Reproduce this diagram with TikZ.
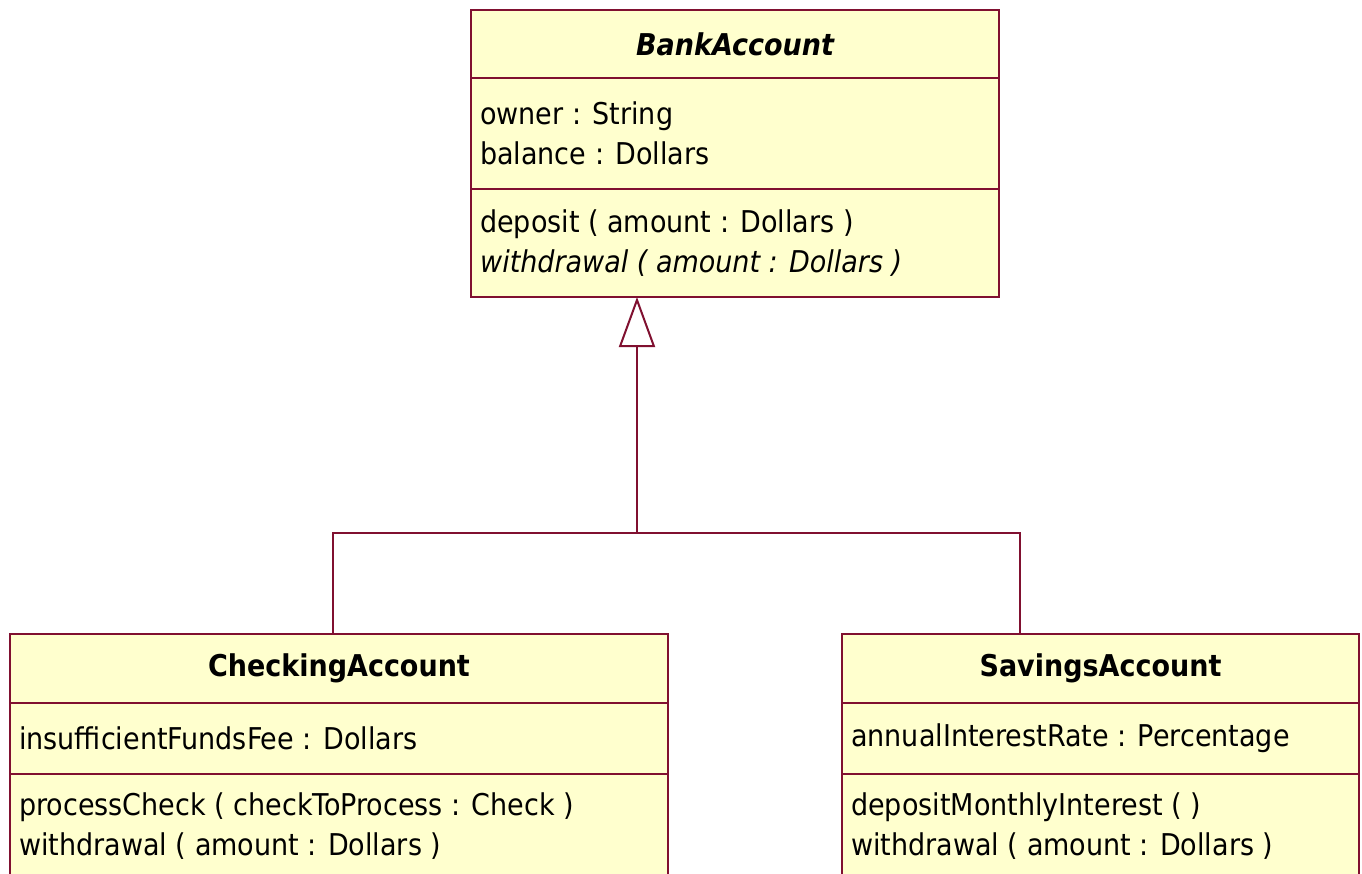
\documentclass[tikz,border=0pt]{standalone}
\usepackage{fontspec}
\setmainfont{DejaVu Sans Condensed}
\usetikzlibrary{arrows.meta}
\definecolor{umlline}{RGB}{128,16,48}
\definecolor{umlfill}{RGB}{255,255,206}
\begin{document}
\begin{tikzpicture}[x=1pt,y=-1pt,
  font=\fontsize{30}{40}\selectfont,
  box/.style={draw=umlline, fill=umlfill, line width=2pt, inner sep=0pt, outer sep=0pt},
  member/.style={align=left, anchor=west, inner xsep=9pt, inner ysep=0pt},
  link/.style={draw=umlline, line width=2pt}]

\useasboundingbox (0,0) rectangle (1362,873);
\clip (0,0) rectangle (1362,873);
\fill[white] (0,0) rectangle (1362,873);

% abstract base class
\node[box, anchor=north west, minimum width=528pt, minimum height=68pt] (bank) at (471,10)
  {\bfseries\itshape BankAccount};
\node[box, anchor=north, minimum width=528pt, minimum height=111pt] (bankattr) at (bank.south) {};
\node[box, anchor=north, minimum width=528pt, minimum height=108pt] (bankops) at (bankattr.south) {};
\node[member] (bankattrtext) at (bankattr.west) {owner : String\\balance : Dollars};
\node[member] (bankopstext) at (bankops.west)
  {deposit ( amount : Dollars )\\\itshape withdrawal ( amount : Dollars )};

% subclasses
\node[box, anchor=north west, minimum width=658pt, minimum height=69pt] (check) at (10,634)
  {\bfseries CheckingAccount};
\node[box, anchor=north, minimum width=658pt, minimum height=71pt] (checkattr) at (check.south) {};
\node[box, anchor=north, minimum width=658pt, minimum height=104pt] (checkops) at (checkattr.south) {};
\node[member] (checkattrtext) at (checkattr.west) {insufficientFundsFee : Dollars};
\node[member] (checkopstext) at (checkops.west)
  {processCheck ( checkToProcess : Check )\\withdrawal ( amount : Dollars )};

\node[box, anchor=north west, minimum width=517pt, minimum height=69pt] (save) at (842,634)
  {\bfseries SavingsAccount};
\node[box, anchor=north, minimum width=517pt, minimum height=71pt] (saveattr) at (save.south) {};
\node[box, anchor=north, minimum width=517pt, minimum height=104pt] (saveops) at (saveattr.south) {};
\node[member] (saveattrtext) at (saveattr.west) {annualInterestRate : Percentage};
\node[member] (saveopstext) at (saveops.west)
  {depositMonthlyInterest ( )\\withdrawal ( amount : Dollars )};

% generalization
\coordinate (fork) at (637,533);
\coordinate (checkin) at (333,634);
\coordinate (savein) at (1020,634);
\draw[link] (checkin) -- (checkin |- fork) -- (savein |- fork) -- (savein);
\draw[link, -{Triangle[open, length=50pt, width=36pt, fill=white]}] (fork) -- (bankops.south -| fork);
\end{tikzpicture}
\end{document}
